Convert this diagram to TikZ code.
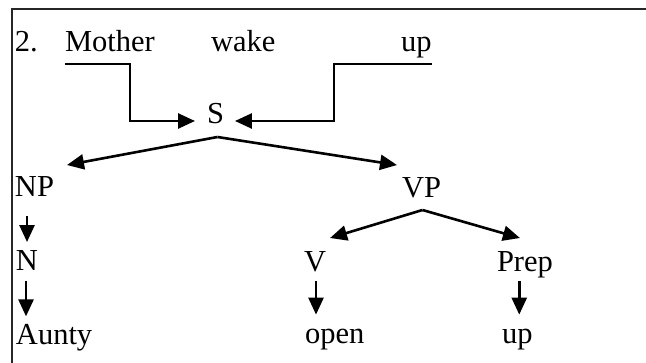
\documentclass[tikz,border=0pt]{standalone}
\usepackage{fontspec}
\setmainfont{Liberation Serif}
\usetikzlibrary{arrows.meta}

\tikzset{
  word/.style={anchor=base west, inner sep=0pt, outer sep=0pt,
               font=\fontsize{30.5}{36}\selectfont},
  link/.style={line width=2.6pt, line join=miter},
  arr/.style={link, -{Triangle[length=17pt,width=15pt]}},
  frame/.style={line width=1.6pt, black!85}
}

\begin{document}
\begin{tikzpicture}[x=1pt, y=-1pt]
  \useasboundingbox (0,0) rectangle (646,363);

  % open frame along the top and left edges
  \draw[frame] (12,363) -- (12,9) -- (646,9);

  % sentence line
  \node[word] (two)    at (15,52)  {2.};
  \node[word] (mother) at (65,52)  {Mother};
  \node[word] (wake)   at (211,52) {wake};
  \node[word] (upA)    at (401,52) {up};

  % tree nodes
  \node[word] (s)     at (207,124) {S};
  \node[word] (np)    at (15,197)  {NP};
  \node[word] (vp)    at (402,198) {VP};
  \node[word] (n)     at (16,271)  {N};
  \node[word] (v)     at (304,272) {V};
  \node[word] (prep)  at (497,272) {Prep};
  \node[word] (aunty) at (16,345)  {Aunty};
  \node[word] (open)  at (305,344) {open};
  \node[word] (upB)   at (502,344) {up};

  % brackets from the sentence into S
  \draw[arr] ([yshift=-12pt]mother.base west) -- ++(65,0)
             |- ([xshift=-12pt,yshift=3pt]s.base west);
  \draw[arr] ([xshift=31pt,yshift=-12pt]upA.base west) -- ++(-98,0)
             |- ([xshift=11pt,yshift=3pt]s.base east);

  % S -> NP, VP
  \coordinate (sTop) at ([xshift=2pt,yshift=-13pt]s.base);
  \draw[arr] (sTop) -- ([xshift=13pt,yshift=12pt]np.north east);
  \draw[arr] (sTop) -- ([xshift=-5pt,yshift=13pt]vp.north west);

  % VP -> V, Prep
  \coordinate (vpTop) at ([xshift=1pt,yshift=-12pt]vp.base);
  \draw[arr] (vpTop) -- ([xshift=4pt,yshift=14pt]v.north east);
  \draw[arr] (vpTop) -- ([xshift=-5pt,yshift=14pt]prep.north);

  % unary branches
  \draw[arr, shorten <=19pt, shorten >=9pt] (np.south -| n.north) -- (n.north);
  \draw[arr, shorten <=10pt, shorten >=8.5pt] ([xshift=-1pt]n.south) -- ([xshift=-1pt]n.south |- aunty.north);
  \draw[arr, shorten <=9pt, shorten >=15pt] ([xshift=1pt]v.south) -- ([xshift=1pt]v.south |- open.north);
  \draw[arr, shorten <=3pt, shorten >=15pt] ([xshift=2pt]prep.south -| upB.north) -- ([xshift=2pt]upB.north);
\end{tikzpicture}
\end{document}
